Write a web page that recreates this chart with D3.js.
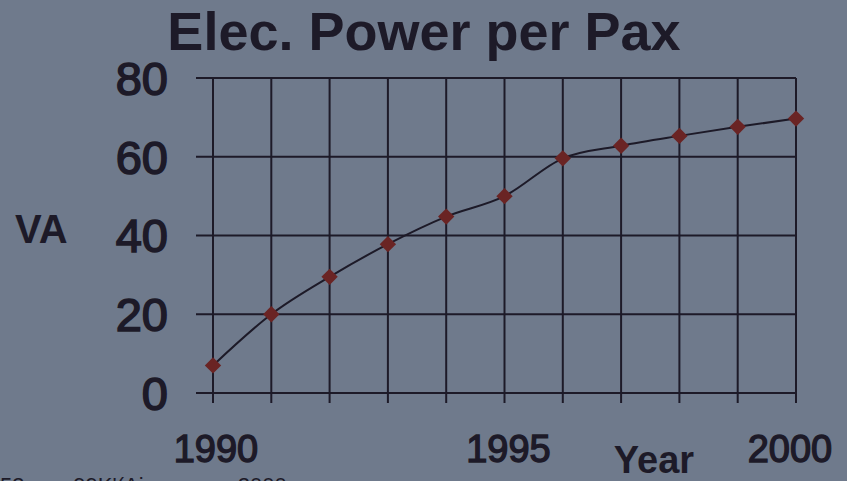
<!DOCTYPE html>
<html>
<head>
<meta charset="utf-8">
<script src="https://cdn.jsdelivr.net/npm/d3@7"></script>
<style>
  body { margin: 0; background: #6f7a8c; }
  svg { display: block; }
  text { font-family: "Liberation Sans", Arial, sans-serif; fill: #1d1a28; }
</style>
</head>
<body>
<script>
// values
const years = [1990, 1991, 1992, 1993, 1994, 1995, 1996, 1997, 1998, 1999, 2000];
const powerVA = [7, 20, 29.5, 37.8, 44.8, 50, 59.6, 62.8, 65.3, 67.6, 69.7];
const yTicks = [0, 20, 40, 60, 80];
const xLabels = [1990, 1995, 2000];

const width = 847, height = 481;
const ink = "#1d1a28";

const svg = d3.select("body").append("svg")
    .attr("width", width)
    .attr("height", height);

const x = d3.scaleLinear().domain([1990, 2000]).range([213, 796]);
const y = d3.scaleLinear().domain([0, 80]).range([393, 78]);

// horizontal grid lines (stick out left of the axis like ticks)
svg.append("g").selectAll("line")
    .data(yTicks)
    .join("line")
    .attr("x1", 196)
    .attr("x2", x(2000))
    .attr("y1", d => y(d))
    .attr("y2", d => y(d))
    .attr("stroke", ink)
    .attr("stroke-width", 2);

// vertical grid lines, one per year, poking below the base line
svg.append("g").selectAll("line")
    .data(years)
    .join("line")
    .attr("x1", d => x(d))
    .attr("x2", d => x(d))
    .attr("y1", y(80))
    .attr("y2", y(0) + 10)
    .attr("stroke", ink)
    .attr("stroke-width", 2);

// y tick labels (scan makes the regular face look heavy, hence the stroke)
svg.append("g").selectAll("text")
    .data(yTicks)
    .join("text")
    .attr("x", 168)
    .attr("y", d => y(d))
    .attr("dy", "0.36em")
    .attr("text-anchor", "end")
    .style("font-size", "47px")
    .style("stroke", ink)
    .style("stroke-width", 1.6)
    .text(d => d);

// x tick labels
svg.append("g").selectAll("text")
    .data(xLabels)
    .join("text")
    .attr("x", d => x(d) + (d === 2000 ? -6 : d === 1990 ? 3 : 4))
    .attr("y", 462)
    .attr("text-anchor", "middle")
    .style("font-size", "38px")
    .style("stroke", ink)
    .style("stroke-width", 1.4)
    .text(d => d);

// the series
const pts = years.map((d, i) => [d, powerVA[i]]);
const line = d3.line().x(d => x(d[0])).y(d => y(d[1])).curve(d3.curveMonotoneX);

svg.append("path")
    .datum(pts)
    .attr("d", line)
    .attr("fill", "none")
    .attr("stroke", ink)
    .attr("stroke-width", 2);

svg.append("g").selectAll("path")
    .data(pts)
    .join("path")
    .attr("transform", d => `translate(${x(d[0])},${y(d[1])})`)
    .attr("d", d3.symbol(d3.symbolDiamond2, 170))
    .attr("fill", "#6a2424");

// titles
svg.append("text")
    .attr("x", 424)
    .attr("y", 50)
    .attr("text-anchor", "middle")
    .style("font-size", "54px")
    .style("font-weight", "bold")
    .text("Elec. Power per Pax");

svg.append("text")
    .attr("x", 15)
    .attr("y", 243)
    .style("font-size", "40px")
    .style("font-weight", "bold")
    .text("VA");

svg.append("text")
    .attr("x", 654)
    .attr("y", 473)
    .attr("text-anchor", "middle")
    .style("font-size", "38px")
    .style("font-weight", "bold")
    .text("Year");

// footer line, cut off by the bottom of the slide
svg.append("text")
    .attr("x", 0)
    .attr("y", 493)
    .style("font-size", "22px")
    .attr("xml:space", "preserve")
    .text("53        99K'(Airways      2000");
</script>
</body>
</html>
